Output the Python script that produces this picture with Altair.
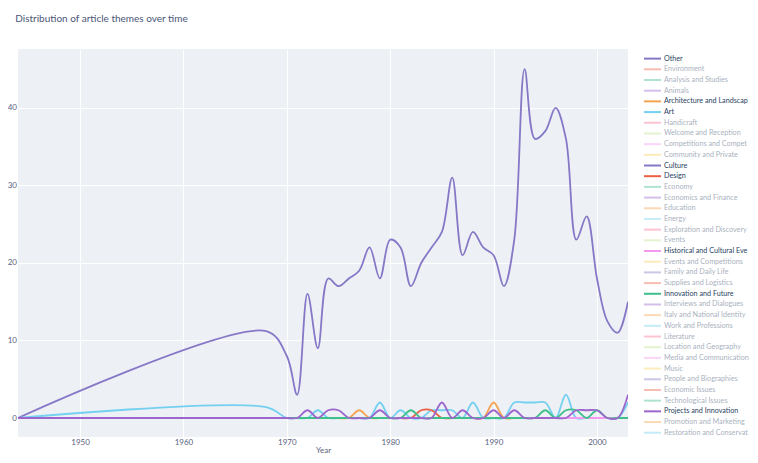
import altair as alt
import pandas as pd

# ---------------- data ----------------
YEARS = [1944, 1968, 1970, 1971, 1972, 1973, 1974, 1975, 1976, 1977, 1978, 1979,
         1980, 1981, 1982, 1983, 1984, 1985, 1986, 1987, 1988, 1989, 1990, 1991,
         1992, 1993, 1994, 1995, 1996, 1997, 1998, 1999, 2000, 2001, 2002, 2003]

OTHER = [0, 11.2, 8, 3, 16, 9, 18, 17, 18, 19, 22, 18,
         23, 22, 17, 20, 22, 24, 31, 21, 24, 22, 21, 17,
         23, 45, 36, 37, 40, 36, 23, 26, 18, 12.5, 11, 15]
ARCHITECTURE = [0, 0, 0, 0, 0, 0, 0, 0, 0, 1, 0, 0,
                0, 0, 0, 0, 0, 0, 0, 0, 0, 0, 2, 0,
                0, 0, 0, 0, 0, 0, 0, 0, 0, 0, 0, 0]
ART = [0, 1.4, 0, 0, 0, 1, 0, 0, 0, 0, 0, 2,
       0, 1, 0, 0, 1, 1, 1, 0, 2, 0, 0, 0,
       2, 2, 2, 2, 0, 3, 0, 0, 0, 0, 0, 2]
CULTURE = [0, 0, 0, 0, 0, 0, 0, 0, 0, 0, 0, 0,
           0, 0, 0, 0, 0, 0, 0, 0, 0, 0, 0, 0,
           0, 0, 0, 0, 0, 0, 0, 0, 0, 0, 0, 0]
DESIGN = [0, 0, 0, 0, 0, 0, 0, 0, 0, 0, 0, 0,
          0, 0, 0, 1, 1, 0, 0, 0, 0, 0, 0, 0,
          0, 0, 0, 0, 0, 0, 0, 0, 0, 0, 0, 0]
HISTORICAL = [0, 0, 0, 0, 0, 0, 0, 0, 0, 0, 0, 0,
              0, 0, 0, 0, 0, 0, 0, 0, 0, 0, 0, 0,
              0, 0, 0, 0, 0, 0, 0, 0, 0, 0, 0, 0]
INNOVATION = [0, 0, 0, 0, 0, 0, 0, 0, 0, 0, 0, 0,
              0, 0, 1, 0, 0, 0, 0, 0, 0, 0, 0, 0,
              0, 0, 0, 1, 0, 1, 1, 0, 1, 0, 0, 0]
PROJECTS = [0, 0, 0, 0, 1, 0, 1, 1, 0, 0, 0, 1,
            0, 0, 0, 0, 0, 2, 0, 1, 0, 0, 1, 0,
            1, 0, 0, 0, 0, 0, 1, 1, 1, 0, 0, 3]

THEMES = ["Other", "Environment", "Analysis and Studies", "Animals",
          "Architecture and Landscape", "Art", "Handicraft", "Welcome and Reception",
          "Competitions and Competitions", "Community and Private", "Culture", "Design",
          "Economy", "Economics and Finance", "Education", "Energy",
          "Exploration and Discovery", "Events", "Historical and Cultural Events",
          "Events and Competitions", "Family and Daily Life", "Supplies and Logistics",
          "Innovation and Future", "Interviews and Dialogues", "Italy and National Identity",
          "Work and Professions", "Literature", "Location and Geography",
          "Media and Communication", "Music", "People and Biographies", "Economic Issues",
          "Technological Issues", "Projects and Innovation", "Promotion and Marketing",
          "Restoration and Conservation"]

PALETTE = ["#8678c6", "#ec5f45", "#3fbf8a", "#9c66cc", "#f6a452",
           "#74d0f0", "#f7708f", "#bde38e", "#f39af0", "#f8cf5e"]

SERIES = {
    "Other": OTHER,
    "Architecture and Landscape": ARCHITECTURE,
    "Art": ART,
    "Culture": CULTURE,
    "Design": DESIGN,
    "Historical and Cultural Events": HISTORICAL,
    "Innovation and Future": INNOVATION,
    "Projects and Innovation": PROJECTS,
}

theme_colors = [PALETTE[i % len(PALETTE)] for i in range(len(THEMES))]
color_of = dict(zip(THEMES, theme_colors))
active = list(SERIES.keys())

rows = []
for name in active:
    for yr, v in zip(YEARS, SERIES[name]):
        rows.append({"year": yr, "value": v, "theme": name})
df = pd.DataFrame(rows)

leg = pd.DataFrame({
    "theme": THEMES,
    "idx": list(range(len(THEMES))),
    "color": theme_colors,
    "op": [1.0 if t in SERIES else 0.42 for t in THEMES],
})

FONT = "Lato"
TXT = "#2a3f5f"

# ---------------- main plot ----------------
main = alt.Chart(df).mark_line(
    interpolate="catmull-rom", strokeWidth=1.8, clip=True
).encode(
    x=alt.X("year:Q",
            scale=alt.Scale(domain=[1944, 2003], nice=False, zero=False),
            axis=alt.Axis(values=[1950, 1960, 1970, 1980, 1990, 2000], format="d",
                          title="Year", grid=True, ticks=False, domain=False,
                          labelPadding=1, titlePadding=0)),
    y=alt.Y("value:Q",
            scale=alt.Scale(domain=[-2.45, 47.6], nice=False, zero=False),
            axis=alt.Axis(values=[0, 10, 20, 30, 40], title=None, grid=True,
                          ticks=False, domain=False, labelPadding=1.5)),
    color=alt.Color("theme:N",
                    scale=alt.Scale(domain=active, range=[color_of[t] for t in active]),
                    legend=None),
).properties(
    width=610, height=388,
    view=alt.ViewBackground(fill="#edf0f5", strokeWidth=0),
)

# ---------------- legend panel ----------------
ysc = alt.Scale(domain=[-0.9, 35.4], reverse=True, nice=False, zero=False)
lbase = alt.Chart(leg).encode(y=alt.Y("idx:Q", scale=ysc, axis=None))
lrule = lbase.mark_rule(strokeWidth=2).encode(
    x=alt.value(0), x2=alt.value(17),
    color=alt.Color("color:N", scale=None),
    opacity=alt.Opacity("op:Q", scale=None),
)
ltext = lbase.mark_text(
    align="left", baseline="middle", fontSize=7.2, font=FONT, color=TXT,
    limit=86, ellipsis=" "
).encode(
    x=alt.value(20),
    text="theme:N",
    opacity=alt.Opacity("op:Q", scale=None),
)
legend_panel = alt.layer(lrule, ltext).properties(
    width=106, height=388,
    view=alt.ViewBackground(fill="white", strokeWidth=0),
)

chart = alt.hconcat(main, legend_panel, spacing=15).properties(
    title=alt.Title("Distribution of article themes over time", anchor="start",
                    fontSize=10, font=FONT, fontWeight="normal", color="#4a5578",
                    dx=8, offset=25.5),
    padding={"left": -1, "top": 5, "right": 0, "bottom": 0},
).configure_view(
    strokeWidth=0
).configure_axis(
    labelFont=FONT, labelFontSize=8, labelColor="#5a6280",
    titleFont=FONT, titleFontSize=8, titleColor="#5a6280", titleFontWeight="normal",
    gridColor="#ffffff", gridWidth=1,
)

chart.save("out.html", embed_options={"renderer": "svg", "actions": False})
